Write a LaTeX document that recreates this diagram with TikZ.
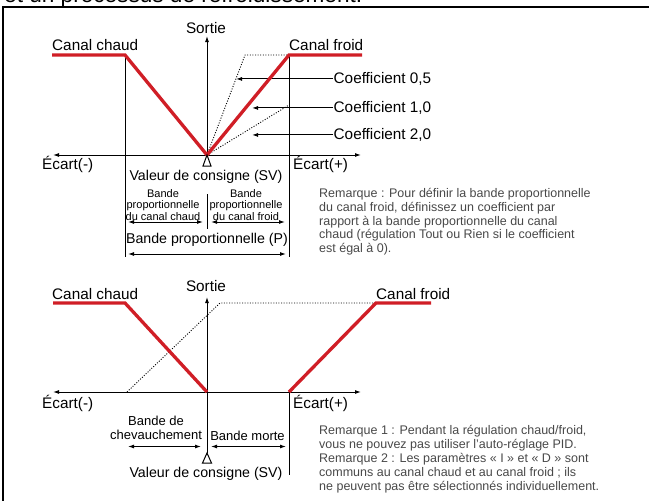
\documentclass[tikz,border=0pt]{standalone}
\usepackage{fontspec}
\setmainfont{Liberation Sans}
\usepackage{tikz}
\usetikzlibrary{positioning,arrows.meta}

\definecolor{chred}{RGB}{208,30,38}
\definecolor{notegray}{RGB}{72,72,72}
\newcommand{\labfont}{\fontsize{15.3}{18}\selectfont}
\newcommand{\svfont}{\fontsize{14.2}{17}\selectfont}
\newcommand{\bandfont}{\fontsize{11}{11.5}\selectfont}
\newcommand{\bandbfont}{\fontsize{13}{14}\selectfont}
\newcommand{\notefont}{\fontsize{12.5}{13.8}\selectfont}

\tikzset{
  >={Latex[length=6pt,width=4pt]},
  axis/.style={line width=1pt},
  chan/.style={line width=3.3pt, draw=chred},
  coef/.style={line width=0.9pt, dash pattern=on 1pt off 1.6pt},
  lab/.style={inner sep=0pt, font=\labfont},
  sv/.style={inner sep=0pt, font=\svfont},
  band/.style={inner sep=0pt, align=center, font=\bandfont},
  bandb/.style={inner sep=0pt, align=center, font=\bandbfont},
  note/.style={inner sep=0pt, align=left, text=notegray, font=\notefont},
}

\begin{document}
\begin{tikzpicture}[x=1pt, y=-1pt]
	\useasboundingbox (0,0) rectangle (649,501);
	% page edge
	\node[anchor=base west, inner sep=0pt, font=\fontsize{22.6}{26}\selectfont] (head) at (4,2.5) {et un processus de refroidissement.};
	\draw[line width=1.2pt] (3,501) -- (3,7) -- (649,7);

	% ---- upper diagram ----
	\coordinate (O1) at (207,155);
	\coordinate (L1) at (53,155);
	\coordinate (R1) at (361,155);
	\coordinate (Y1) at (207,36);
	\coordinate (H1a) at (52,55);
	\coordinate (H1b) at (125,55);
	\coordinate (F1b) at (289,55);
	\coordinate (F1c) at (362,55);
	\coordinate (H1d) at (125,257);
	\coordinate (F1d) at (289,257);
	\coordinate (K05) at (245,55);
	\coordinate (K20) at (289,105);
	\coordinate (T05) at (236,0);
	\coordinate (T10) at (252,0);
	\coordinate (T20) at (252,0);

	\node[lab, anchor=base] (sortie1) at (206,33) {Sortie};
	\node[lab, anchor=base west] (chaud1) at (52,50) {Canal chaud};
	\node[lab, anchor=base west] (froid1) at (289,50) {Canal froid};
	\node[lab, anchor=base west, inner sep=0.5pt] (coef05) at (333,83.5) {Coefficient 0,5};
	\node[lab, anchor=base west, inner sep=0.5pt] (coef10) at (333,112.5) {Coefficient 1,0};
	\node[lab, anchor=base west, inner sep=0.5pt] (coef20) at (333,139.5) {Coefficient 2,0};
	\node[lab, anchor=base west] (ecartm1) at (42,169) {Écart(-)};
	\node[lab, anchor=base west] (ecartp1) at (293,169) {Écart(+)};
	\node[sv, anchor=base] (sv1) at (206,180) {Valeur de consigne (SV)};
	\node[band, anchor=north] (bpch) at (163,189) {Bande\\proportionnelle\\du canal chaud};
	\node[band, anchor=north] (bpfr) at (246,189) {Bande\\proportionnelle\\du canal froid};
	\node[sv, anchor=base] (bp) at (207,243.5) {Bande proportionnelle (P)};
	\node[note, anchor=north west] (note1) at (319,188) {Remarque : Pour définir la bande proportionnelle\\du canal froid, définissez un coefficient par\\rapport à la bande proportionnelle du canal\\chaud (régulation Tout ou Rien si le coefficient\\est égal à 0).};

	\draw[axis, <->] (L1) -- (R1);
	\draw[axis, ->] (O1) -- (Y1);
	\draw[axis] (H1b) -- (H1d);
	\draw[axis] (F1b) -- (F1d);
	\draw[coef] (O1) -- (K05) -- (F1b);
	\draw[coef] (O1) -- (K20);
	\draw[axis, ->] (coef05.west) -- (coef05.west -| T05);
	\draw[axis, ->] (coef10.west) -- (coef10.west -| T10);
	\draw[axis, ->] (coef20.west) -- (coef20.west -| T20);
	\draw[chan] (H1a) -- (H1b) -- (O1) -- (F1b) -- (F1c);
	\draw[axis, fill=white] (O1) -- ++(-4,11) -- ++(8,0) -- cycle;

	\draw[axis] (207,194) -- (207,229);
	\draw[axis, <->] (128,222) -- (203,222);
	\draw[axis, <->] (211,222) -- (285,222);
	\draw[axis, <->] (128,254) -- (286,254);

	% ---- lower diagram ----
	\coordinate (O2) at (207,392);
	\coordinate (L2) at (53,392);
	\coordinate (R2) at (361,392);
	\coordinate (Y2) at (207,297);
	\coordinate (S2) at (207,453);
	\coordinate (H2a) at (53,303);
	\coordinate (H2b) at (125,303);
	\coordinate (F2a) at (289,392);
	\coordinate (F2b) at (376,303);
	\coordinate (F2c) at (431,303);
	\coordinate (F2d) at (289,475);
	\coordinate (K2a) at (127,392);
	\coordinate (K2b) at (220,303);

	\node[lab, anchor=base] (sortie2) at (206,291) {Sortie};
	\node[lab, anchor=base west] (chaud2) at (52,299) {Canal chaud};
	\node[lab, anchor=base west] (froid2) at (376,299) {Canal froid};
	\node[lab, anchor=base west] (ecartm2) at (42,408) {Écart(-)};
	\node[lab, anchor=base west] (ecartp2) at (293,408) {Écart(+)};
	\node[bandb, anchor=north] (chev) at (156,415.5) {Bande de\\chevauchement};
	\node[bandb, anchor=base] (morte) at (247.5,440) {Bande morte};
	\node[sv, anchor=base] (sv2) at (206,477) {Valeur de consigne (SV)};
	\node[note, anchor=north west] (note2) at (319,425.5) {Remarque 1 : Pendant la régulation chaud/froid,\\vous ne pouvez pas utiliser l’auto-réglage PID.\\Remarque 2 : Les paramètres « I » et « D » sont\\communs au canal chaud et au canal froid ; ils\\ne peuvent pas être sélectionnés individuellement.};

	\draw[axis, <->] (L2) -- (R2);
	\draw[axis, ->] (O2) -- (Y2);
	\draw[axis] (O2) -- (S2);
	\draw[axis] (F2a) -- (F2d);
	\draw[coef] (K2a) -- (K2b) -- (F2b);
	\draw[chan] (H2a) -- (H2b) -- (O2);
	\draw[chan] (F2a) -- (F2b) -- (F2c);
	\draw[axis, fill=white] (S2) -- ++(-4.5,10) -- ++(9,0) -- cycle;

	\draw[axis, <->] (128,446.5) -- (201,446.5);
	\draw[axis, <->] (211,446.5) -- (286,446.5);
\end{tikzpicture}
\end{document}
